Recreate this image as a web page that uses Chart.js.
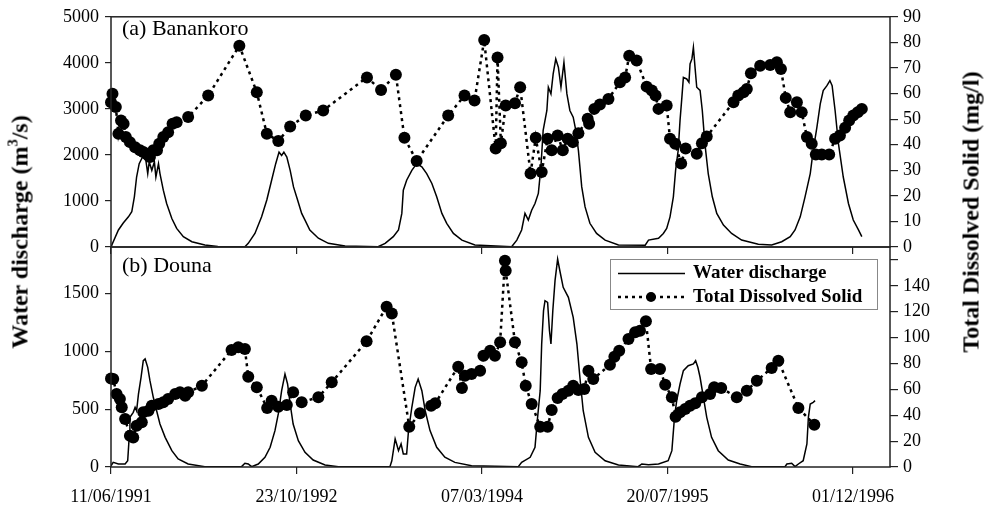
<!DOCTYPE html>
<html>
<head>
<meta charset="utf-8">
<title>Water discharge and TDS - Banankoro / Douna</title>
<script src="https://cdn.jsdelivr.net/npm/chart.js@4.4.1/dist/chart.umd.min.js"></script>
<style>
  html, body { margin: 0; padding: 0; background: #fff; }
  #wrap { position: relative; width: 990px; height: 510px; overflow: hidden; }
  #wrap canvas { position: absolute; left: 0; top: 0; }
  .axis-title {
    position: absolute;
    font: bold 24px 'Liberation Serif', 'Times New Roman', serif;
    white-space: nowrap;
    transform: translate(-50%, -50%) rotate(-90deg);
  }
  .axis-title sup { font-size: 0.6em; line-height: 0; vertical-align: 0.7em; }
</style>
</head>
<body>
<div id="wrap">
  <canvas id="chart-a" width="990" height="510"></canvas>
  <canvas id="chart-b" width="990" height="510"></canvas>
  <div class="axis-title" style="left:20px; top:232px;">Water discharge (m<sup>3</sup>/s)</div>
  <div class="axis-title" style="left:971px; top:212px;">Total Dissolved Solid (mg/l)</div>
</div>
<script>
// --- x axis: days counted from 11/06/1991 ---
const dateTickDays = [0, 500, 1000, 1500, 2000];
const dateTickLabels = ['11/06/1991', '23/10/1992', '07/03/1994', '20/07/1995', '01/12/1996'];

// --- (a) Banankoro ---
const banQDays = [0, 2, 20, 33, 47, 56, 63, 69, 76, 85, 94, 99, 103, 110, 117, 121, 128, 132, 141, 150,
  164, 177, 195, 218, 253, 288, 361, 370, 388, 406, 420, 433, 444, 453, 460, 466, 474, 483, 492, 503,
  514, 523, 536, 559, 586, 631, 720, 739, 761, 775, 784, 788, 797, 811, 824, 838, 851, 865, 878, 892,
  905, 923, 946, 981, 1080, 1094, 1107, 1116, 1125, 1134, 1143, 1152, 1159, 1165, 1175, 1179, 1186, 1192, 1199, 1206,
  1213, 1221, 1229, 1237, 1246, 1253, 1260, 1269, 1278, 1291, 1309, 1332, 1368, 1440, 1449, 1476, 1489, 1498, 1507, 1516,
  1522, 1529, 1534, 1539, 1543, 1552, 1558, 1561, 1566, 1570, 1574, 1579, 1588, 1594, 1601, 1610, 1621, 1633, 1651, 1673,
  1700, 1745, 1781, 1808, 1831, 1844, 1858, 1871, 1885, 1893, 1903, 1912, 1920, 1930, 1938, 1944, 1952, 1961, 1974, 1988,
  2001, 2015, 2024];
const banQ = [30, 40, 370, 520, 655, 765, 1090, 1520, 1810, 1955, 1880, 1595, 1850, 1665, 1850, 1520, 1810, 1595, 1235, 945,
  620, 405, 225, 115, 45, 10, 5, 80, 295, 655, 1020, 1450, 1810, 2060, 1990, 2060, 1955, 1665, 1305, 1020,
  730, 585, 370, 190, 80, 20, 5, 80, 225, 370, 730, 1235, 1450, 1665, 1810, 1740, 1595, 1380, 1090, 730,
  515, 295, 150, 45, 5, 150, 370, 730, 585, 800, 945, 1165, 1740, 2535, 2965, 3470, 3325, 3760, 4085, 3905,
  3470, 4010, 3325, 2965, 2820, 2535, 2100, 1305, 870, 515, 295, 150, 45, 40, 150, 190, 295, 405, 655, 1090,
  1665, 2100, 2750, 3255, 3685, 3650, 3580, 3975, 4085, 4335, 3940, 3470, 3400, 2965, 2245, 1595, 1090, 730, 475, 295,
  150, 60, 45, 115, 225, 370, 655, 1090, 1595, 2100, 2605, 3110, 3400, 3505, 3615, 3505, 2965, 2245, 1520, 945,
  585, 370, 225];
const banTdsDays = [0, 4, 13, 20, 27, 34, 40, 51, 65, 78, 87, 96, 105, 114, 124, 130, 141, 154, 166, 177,
  208, 262, 346, 393, 420, 451, 483, 525, 572, 690, 728, 768, 791, 824, 909, 953, 980, 1006, 1037, 1042,
  1051, 1064, 1089, 1103, 1131, 1145, 1161, 1177, 1188, 1204, 1218, 1231, 1245, 1260, 1285, 1289, 1303, 1318, 1341, 1372,
  1386, 1397, 1417, 1444, 1458, 1468, 1476, 1498, 1507, 1521, 1537, 1549, 1579, 1593, 1606, 1678, 1691, 1705, 1714, 1725,
  1750, 1777, 1795, 1806, 1819, 1831, 1849, 1862, 1876, 1889, 1900, 1916, 1936, 1952, 1965, 1979, 1990, 2001, 2013, 2024];
const banTds = [56.6, 59.9, 54.7, 44.3, 49.5, 48.2, 43.0, 41.0, 39.0, 37.8, 37.1, 36.5, 35.2, 37.8, 37.8, 40.4, 43.0, 44.9, 48.2, 48.8,
  50.8, 59.2, 78.7, 60.5, 44.3, 41.4, 47.1, 51.4, 53.4, 66.3, 61.4, 67.3, 42.7, 33.6, 51.4, 59.2, 57.3, 80.9, 38.5, 74.1,
  40.6, 55.3, 56.2, 62.5, 28.7, 42.7, 29.3, 42.3, 37.8, 43.6, 37.8, 42.3, 41.0, 44.5, 50.1, 48.2, 54.0, 55.7, 57.9, 64.4,
  66.3, 74.8, 72.9, 62.7, 61.2, 59.2, 54.0, 55.3, 42.3, 40.4, 32.6, 38.5, 36.5, 40.6, 43.2, 56.6, 59.2, 60.5, 61.8, 67.9,
  70.9, 71.2, 72.2, 69.6, 58.3, 52.7, 56.6, 52.7, 43.0, 40.4, 36.2, 36.2, 36.2, 42.3, 43.6, 46.6, 49.5, 51.4, 52.7, 54.0];
const banQTicks = [0, 1000, 2000, 3000, 4000, 5000];
const banTdsTicks = [0, 10, 20, 30, 40, 50, 60, 70, 80, 90];
const banTdsLabels = ['0', '10', '20', '30', '40', '50', '60', '70', '80', '90'];

// --- (b) Douna ---
const douQDays = [0, 6, 20, 38, 45, 49, 51, 60, 65, 69, 74, 81, 87, 92, 99, 105, 114, 123, 132, 146,
  164, 181, 208, 253, 352, 361, 370, 379, 397, 415, 429, 442, 451, 460, 469, 476, 483, 491, 505, 523,
  545, 577, 613, 752, 757, 766, 770, 775, 782, 788, 797, 802, 811, 820, 828, 838, 847, 860, 878, 900,
  927, 972, 1098, 1107, 1130, 1143, 1150, 1157, 1161, 1166, 1170, 1177, 1182, 1186, 1191, 1197, 1204, 1210, 1219, 1233,
  1246, 1256, 1264, 1273, 1287, 1305, 1332, 1368, 1421, 1431, 1449, 1476, 1502, 1512, 1519, 1525, 1534, 1543, 1556, 1570,
  1576, 1582, 1588, 1597, 1606, 1619, 1637, 1664, 1696, 1727, 1817, 1822, 1835, 1844, 1853, 1866, 1876, 1880, 1885, 1893,
  1898];
const douQ = [11, 40, 26, 26, 54, 256, 429, 472, 516, 486, 630, 775, 918, 933, 861, 745, 602, 486, 371, 256,
  141, 69, 26, 3, 3, 32, 26, 3, 26, 84, 170, 314, 458, 659, 803, 717, 544, 371, 227, 127,
  60, 17, 3, 3, 54, 242, 199, 141, 199, 112, 112, 314, 516, 688, 760, 659, 486, 314, 170, 84,
  40, 11, 3, 40, 84, 170, 429, 659, 1062, 1350, 1436, 1422, 1177, 1062, 1350, 1609, 1796, 1695, 1552, 1465,
  1293, 1062, 775, 486, 256, 127, 54, 17, 3, 26, 20, 26, 54, 141, 429, 573, 717, 832, 875, 890,
  918, 861, 775, 602, 429, 256, 141, 60, 26, 3, 3, 26, 32, 3, 26, 54, 199, 429, 544, 559,
  573];
const douTdsDays = [0, 6, 15, 24, 29, 38, 51, 60, 69, 83, 87, 101, 110, 128, 141, 154, 173, 186, 200, 208,
  245, 325, 343, 361, 370, 393, 421, 433, 451, 474, 491, 514, 559, 595, 689, 743, 757, 804, 833, 863,
  874, 936, 946, 954, 972, 995, 1004, 1022, 1035, 1049, 1062, 1064, 1089, 1107, 1118, 1134, 1157, 1177, 1188, 1204,
  1217, 1233, 1246, 1260, 1276, 1287, 1300, 1345, 1357, 1370, 1395, 1413, 1426, 1442, 1456, 1480, 1494, 1512, 1522, 1534,
  1548, 1561, 1575, 1593, 1615, 1626, 1645, 1687, 1714, 1741, 1781, 1799, 1853, 1896];
const douTds = [68.4, 68.0, 56.4, 52.5, 46.1, 37.1, 24.2, 22.8, 31.9, 34.5, 42.3, 43.5, 47.4, 48.7, 50.0, 52.5, 56.4, 57.7, 55.1, 57.7,
  62.8, 90.4, 92.5, 91.2, 69.8, 61.6, 45.6, 51.2, 46.6, 47.9, 57.7, 50.0, 53.9, 65.4, 97.1, 123.9, 118.7, 31.1, 41.5, 47.4,
  49.2, 77.5, 61.0, 70.5, 71.9, 74.4, 86.0, 89.9, 86.0, 96.4, 159.4, 151.7, 96.4, 80.9, 62.8, 48.7, 31.1, 31.1, 44.0, 53.3,
  56.4, 59.0, 62.8, 59.5, 60.3, 74.4, 68.0, 79.0, 85.2, 89.9, 98.9, 104.1, 105.3, 112.6, 75.7, 75.7, 63.6, 53.9, 38.9, 42.3,
  44.8, 47.4, 49.2, 53.9, 56.4, 61.6, 61.0, 53.9, 59.0, 66.7, 76.5, 82.1, 45.6, 32.7];
const douQTicks = [0, 500, 1000, 1500];
const douTdsTicks = [0, 20, 40, 60, 80, 100, 120, 140, 160];
const douTdsLabels = ['0', '20', '40', '60', '80', '100', '120', '140', ''];

const SERIF = "'Liberation Serif', 'Times New Roman', serif";
Chart.defaults.font.family = SERIF;
Chart.defaults.font.size = 18;
Chart.defaults.color = '#000';

const toPoints = (xs, ys) => xs.map((x, i) => ({ x, y: ys[i] }));

// Frame around each plot area plus the panel name
const panelFrame = {
  id: 'panelFrame',
  afterDatasetsDraw(chart, args, opts) {
    const { ctx, chartArea: a } = chart;
    ctx.save();
    ctx.strokeStyle = '#222';
    ctx.lineWidth = 1.5;
    ctx.strokeRect(a.left, a.top, a.right - a.left, a.bottom - a.top);
    ctx.fillStyle = '#000';
    ctx.font = '22px ' + SERIF;
    ctx.textBaseline = 'alphabetic';
    ctx.fillText(opts.label, a.left + 11, a.top + opts.baseline);
    ctx.restore();
  }
};

// Legend box drawn in the lower panel (line sample + marker, as in the original)
const legendBox = {
  id: 'legendBox',
  afterDraw(chart) {
    const { ctx, chartArea: a } = chart;
    const x = a.right - 280, y = a.top + 12, w = 267, h = 50;
    ctx.save();
    ctx.fillStyle = '#fff';
    ctx.fillRect(x, y, w, h);
    ctx.strokeStyle = '#888';
    ctx.lineWidth = 1;
    ctx.strokeRect(x + 0.5, y + 0.5, w, h);

    const r1 = y + 14.5, r2 = y + 38;
    ctx.strokeStyle = '#000';
    ctx.lineWidth = 1.5;
    ctx.beginPath();
    ctx.moveTo(x + 8, r1);
    ctx.lineTo(x + 75, r1);
    ctx.stroke();

    ctx.lineWidth = 2.5;
    ctx.setLineDash([3, 4]);
    ctx.beginPath();
    ctx.moveTo(x + 8, r2);
    ctx.lineTo(x + 75, r2);
    ctx.stroke();
    ctx.setLineDash([]);
    ctx.fillStyle = '#000';
    ctx.beginPath();
    ctx.arc(x + 41, r2, 5, 0, Math.PI * 2);
    ctx.fill();

    ctx.font = 'bold 19px ' + SERIF;
    ctx.textBaseline = 'middle';
    ctx.fillText('Water discharge', x + 83, r1);
    ctx.fillText('Total Dissolved Solid', x + 83, r2);
    ctx.restore();
  }
};

function makePanel(canvasId, cfg) {
  const tickGrid = (len) => ({ drawOnChartArea: false, color: '#222', lineWidth: 1.2, tickLength: len });
  return new Chart(document.getElementById(canvasId), {
    type: 'line',
    data: {
      datasets: [
        {
          label: 'Total Dissolved Solid',
          data: toPoints(cfg.tdsDays, cfg.tds),
          yAxisID: 'tds',
          order: 0,
          borderColor: '#000',
          borderWidth: 2.5,
          borderDash: [3, 4],
          pointRadius: 6,
          pointBackgroundColor: '#000',
          pointBorderWidth: 0,
          clip: false,
          tension: 0,
        },
        {
          label: 'Water discharge',
          data: toPoints(cfg.qDays, cfg.q),
          yAxisID: 'q',
          order: 1,
          borderColor: '#000',
          borderWidth: 1.5,
          pointRadius: 0,
          tension: 0,
        },
      ],
    },
    options: {
      responsive: false,
      animation: false,
      events: [],
      layout: { padding: cfg.padding },
      plugins: {
        legend: { display: false },
        tooltip: { enabled: false },
        panelFrame: { label: cfg.label, baseline: cfg.labelBaseline },
      },
      scales: {
        x: {
          type: 'linear',
          min: 0,
          max: 2100,
          afterBuildTicks: (s) => { s.ticks = dateTickDays.map((v) => ({ value: v })); },
          afterFit: (s) => { s.height = cfg.xHeight; },
          grid: tickGrid(7),
          border: { display: false },
          ticks: {
            display: cfg.showDates,
            padding: 12,
            maxRotation: 0,
            autoSkip: false,
            callback: (v) => dateTickLabels[dateTickDays.indexOf(v)],
          },
        },
        q: {
          position: 'left',
          min: 0,
          max: cfg.qMax,
          afterBuildTicks: (s) => { s.ticks = cfg.qTicks.map((v) => ({ value: v })); },
          afterFit: (s) => { s.width = 111; },
          grid: tickGrid(6),
          border: { display: false },
          ticks: { padding: 6, callback: (v) => String(v) },
        },
        tds: {
          position: 'right',
          min: 0,
          max: cfg.tdsMax,
          afterBuildTicks: (s) => { s.ticks = cfg.tdsTicks.map((v) => ({ value: v })); },
          afterFit: (s) => { s.width = 100; },
          grid: tickGrid(8),
          border: { display: false },
          ticks: { padding: 5, callback: (v) => cfg.tdsLabels[cfg.tdsTicks.indexOf(v)] },
        },
      },
    },
    plugins: cfg.extraPlugins ? [panelFrame, ...cfg.extraPlugins] : [panelFrame],
  });
}

// --- Top panel: (a) Banankoro ---
makePanel('chart-a', {
  label: '(a) Banankoro', labelBaseline: 18,
  qDays: banQDays, q: banQ, tdsDays: banTdsDays, tds: banTds,
  qMax: 5000, qTicks: banQTicks,
  tdsMax: 90, tdsTicks: banTdsTicks, tdsLabels: banTdsLabels,
  padding: { top: 16, bottom: 510 - 247 - 10, left: 0, right: 0 },
  xHeight: 10, showDates: false,
});

// --- Bottom panel: (b) Douna ---
makePanel('chart-b', {
  label: '(b) Douna', labelBaseline: 25,
  qDays: douQDays, q: douQ, tdsDays: douTdsDays, tds: douTds,
  qMax: 1900, qTicks: douQTicks,
  tdsMax: 170, tdsTicks: douTdsTicks, tdsLabels: douTdsLabels,
  padding: { top: 247, bottom: 0, left: 0, right: 0 },
  xHeight: 43, showDates: true,
  extraPlugins: [legendBox],
});
</script>
</body>
</html>
